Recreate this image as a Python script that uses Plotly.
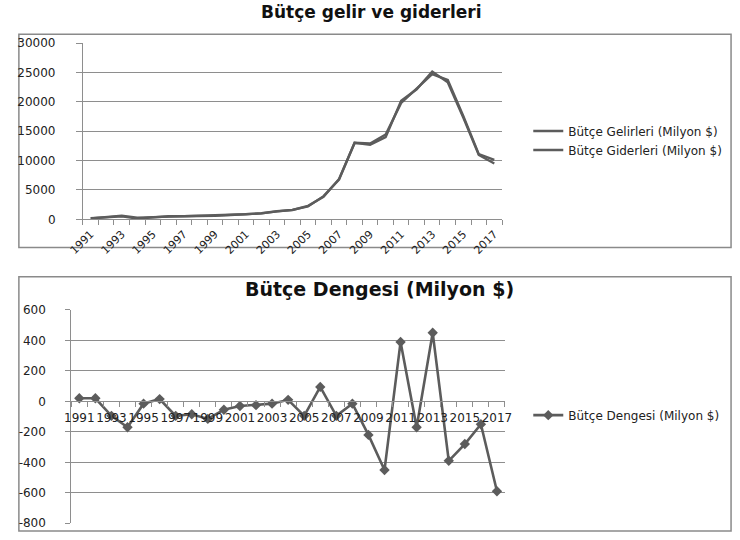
import plotly.graph_objects as go

# Years shown on both category axes
years = list(range(1991, 2018))

# Budget revenues and expenditures (million $)
gelir = [190, 410, 505, 130, 385, 515, 525, 535, 605, 735, 830, 1015, 1355, 1610,
         2205, 3945, 6775, 13005, 12680, 14000, 20190, 22130, 25150, 23310, 17320,
         10950, 9510]
gider = [170, 390, 600, 300, 400, 500, 620, 620, 720, 790, 860, 1040, 1370, 1600,
         2300, 3850, 6870, 13020, 12900, 14450, 19800, 22300, 24700, 23700, 17600,
         11100, 10100]

# Budget balance (million $)
denge = [20, 20, -95, -170, -15, 15, -95, -85, -115, -55, -30, -25, -15, 10, -95,
         95, -95, -15, -220, -450, 390, -170, 450, -390, -280, -150, -590]

label_years = [y for y in years if y % 2 == 1]
label_text = [str(y) for y in label_years]

top_ticks = [0, 5000, 10000, 15000, 20000, 25000, 30000]
bottom_ticks = [-800, -600, -400, -200, 0, 200, 400, 600]
bottom_tick_text = ["-800", "-600", "-400", "-200", "0", "200", "400", "600"]

W, H = 740, 540
LINE = "#5c5c5c"
GRID = "#8e8e8e"
FONT = "DejaVu Sans"
TEXT = "#222222"


def px_x(p):
    return p / W


def px_y(p):
    return 1 - p / H


fig = go.Figure()

fig.add_trace(go.Scatter(x=years, y=gelir, mode="lines", name="Bütçe Gelirleri (Milyon $)",
                         line=dict(color=LINE, width=2.4), xaxis="x", yaxis="y",
                         legend="legend"))
fig.add_trace(go.Scatter(x=years, y=gider, mode="lines", name="Bütçe Giderleri (Milyon $)",
                         line=dict(color=LINE, width=2.4), xaxis="x", yaxis="y",
                         legend="legend"))
fig.add_trace(go.Scatter(x=years, y=denge, mode="lines+markers", name="Bütçe Dengesi (Milyon $)",
                         line=dict(color=LINE, width=2.6),
                         marker=dict(symbol="diamond", size=8, color=LINE),
                         xaxis="x2", yaxis="y2", legend="legend2"))

# Domains of the two plot areas
top_x = [px_x(70), px_x(502)]
top_y = [px_y(218), px_y(37)]
bot_x = [px_x(58), px_x(505)]
bot_y = [px_y(530), px_y(311)]
bot_range = [-800, 600]
zero_pos = bot_y[0] + (0 - bot_range[0]) / (bot_range[1] - bot_range[0]) * (bot_y[1] - bot_y[0])

fig.update_layout(
    width=W, height=H,
    margin=dict(l=0, r=0, t=0, b=0),
    paper_bgcolor="white", plot_bgcolor="white",
    showlegend=True,
    xaxis=dict(domain=top_x, anchor="y", range=[1990.5, 2017.5],
               tickmode="array", tickvals=label_years, ticktext=label_text,
               tickangle=-45, ticks="", showgrid=False, zeroline=False,
               showline=True, linecolor=GRID, linewidth=1, ticklabelstandoff=3,
               minor=dict(ticks="outside", tick0=1990.5, dtick=1, ticklen=5,
                          tickcolor=GRID, showgrid=False),
               tickfont=dict(family=FONT, size=11, color=TEXT)),
    yaxis=dict(domain=top_y, anchor="x", range=[0, 30000],
               tickmode="array", tickvals=top_ticks, tickformat="d",
               showgrid=True, gridcolor=GRID, gridwidth=1, zeroline=False,
               showline=True, linecolor=GRID, linewidth=1,
               ticks="outside", ticklen=6, tickcolor=GRID, ticklabelstandoff=18,
               tickfont=dict(family=FONT, size=12, color=TEXT)),
    xaxis2=dict(domain=bot_x, anchor="free", position=zero_pos, range=[1990.5, 2017.5],
                tickmode="array", tickvals=label_years, ticktext=label_text,
                tickangle=0, ticks="", showgrid=False, zeroline=False,
                showline=True, linecolor=GRID, linewidth=1, ticklabelstandoff=5,
                minor=dict(ticks="outside", tick0=1990.5, dtick=1, ticklen=5,
                           tickcolor=GRID, showgrid=False),
                tickfont=dict(family=FONT, size=12, color=TEXT)),
    yaxis2=dict(domain=bot_y, anchor="x2", range=bot_range,
                tickmode="array", tickvals=bottom_ticks, ticktext=bottom_tick_text,
                showgrid=True, gridcolor=GRID, gridwidth=1, zeroline=False,
                showline=True, linecolor=GRID, linewidth=1,
                ticks="outside", ticklen=5, tickcolor=GRID, ticklabelstandoff=17,
                tickfont=dict(family=FONT, size=12, color=TEXT)),
    legend=dict(x=px_x(529), y=px_y(137), xanchor="left", yanchor="middle",
                bgcolor="rgba(0,0,0,0)", itemwidth=30, tracegroupgap=0,
                font=dict(family=FONT, size=12, color=TEXT)),
    legend2=dict(x=px_x(529), y=px_y(419), xanchor="left", yanchor="middle",
                 bgcolor="rgba(0,0,0,0)", itemwidth=30,
                 font=dict(family=FONT, size=12, color=TEXT)),
    shapes=[
        dict(type="rect", xref="paper", yref="paper",
             x0=px_x(4), x1=px_x(738), y0=px_y(247), y1=px_y(28),
             line=dict(color="#8a8a8a", width=1.5), fillcolor="rgba(0,0,0,0)", layer="below"),
        dict(type="rect", xref="paper", yref="paper",
             x0=px_x(4), x1=px_x(738), y0=px_y(538), y1=px_y(277),
             line=dict(color="#8a8a8a", width=1.5), fillcolor="rgba(0,0,0,0)", layer="below"),
    ],
    annotations=[
        dict(text="Bütçe gelir ve giderleri", xref="paper", yref="paper",
             x=px_x(367), y=px_y(5), xanchor="center", yanchor="middle", showarrow=False,
             font=dict(family=FONT, size=17, color="#111111", weight="bold")),
        dict(text="Bütçe Dengesi (Milyon $)", xref="paper", yref="paper",
             x=px_x(376), y=px_y(290), xanchor="center", yanchor="middle", showarrow=False,
             font=dict(family=FONT, size=19, color="#111111", weight="bold")),
    ],
)

fig.write_html("out.html")
